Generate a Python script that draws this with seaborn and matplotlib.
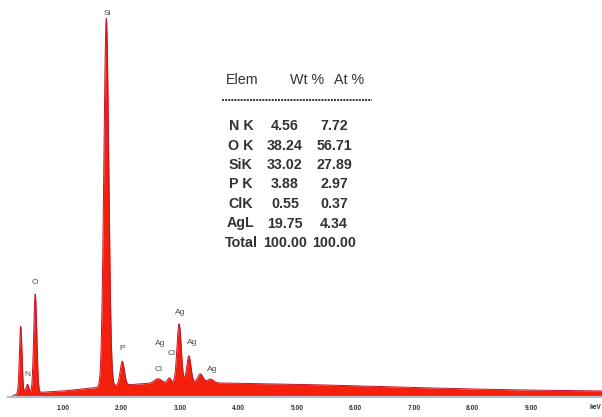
import numpy as np
import matplotlib
matplotlib.use("Agg")
import matplotlib.pyplot as plt
import seaborn as sns
from matplotlib.lines import Line2D

sns.set_theme(style="white")
plt.rcParams["font.family"] = ["Liberation Sans", "DejaVu Sans"]

# Characteristic lines: energy (keV), counts above continuum, sigma (keV)
peak_energy = [0.277, 0.392, 0.525, 1.740, 2.013, 2.622, 2.816, 2.984, 3.151, 3.348, 3.520]
peak_counts = [540, 70, 790, 2950, 190, 35, 40, 470, 215, 70, 30]
peak_sigma = [0.022, 0.025, 0.026, 0.042, 0.036, 0.060, 0.030, 0.036, 0.036, 0.045, 0.050]

# Bremsstrahlung continuum
bg_energy = [0.10, 0.20, 0.40, 0.70, 1.00, 1.50, 2.00, 2.50, 3.00, 3.50, 4.00, 5.00, 6.00, 7.00, 8.00, 9.00, 10.00, 10.30]
bg_counts = [0, 22, 32, 40, 48, 72, 95, 110, 116, 114, 110, 102, 90, 76, 64, 55, 50, 48]

# Peak annotations
label_text = ["N", "O", "Si", "P", "Cl", "Ag", "Cl", "Ag", "Ag", "Ag"]
label_energy = [0.39, 0.52, 1.75, 2.02, 2.64, 2.66, 2.85, 3.01, 3.20, 3.55]
label_counts = [150, 890, 3040, 360, 190, 400, 320, 650, 410, 190]

# Quantification table
elements = ["N K", "O K", "SiK", "P K", "ClK", "AgL", "Total"]
wt_pct = ["4.56", "38.24", "33.02", "3.88", "0.55", "19.75", "100.00"]
at_pct = ["7.72", "56.71", "27.89", "2.97", "0.37", "4.34", "100.00"]
tick_values = [1, 2, 3, 4, 5, 6, 7, 8, 9]
tick_labels = ["1.00", "2.00", "3.00", "4.00", "5.00", "6.00", "7.00", "8.00", "9.00"]

W, H = 602, 417
fig = plt.figure(figsize=(W / 100, H / 100), dpi=100)
ax = fig.add_axes([0, 1 - 397 / H, 1, 397 / H])

energy = np.linspace(0.10, 10.30, 4000)
spectrum = np.interp(energy, bg_energy, bg_counts)
for e0, c0, s0 in zip(peak_energy, peak_counts, peak_sigma):
    spectrum = spectrum + c0 * np.exp(-0.5 * ((energy - e0) / s0) ** 2)

ax.fill_between(energy, 0, spectrum, color="#f5200c", linewidth=0)
sns.lineplot(x=energy, y=spectrum, ax=ax, color="#c4122c", linewidth=0.7)

for t, e, c in zip(label_text, label_energy, label_counts):
    ax.text(e, c, t, ha="center", va="bottom", fontsize=6, color="#4a4a58")

ax.set_xlim(-4.5 / 58.5, (W - 4.5) / 58.5)
ax.set_ylim(0, 3180)
for s in ["top", "left", "right"]:
    ax.spines[s].set_visible(False)
ax.spines["bottom"].set_color("#b4bccb")
ax.spines["bottom"].set_linewidth(1.6)
ax.spines["bottom"].set_bounds(0.06, 10.4)
ax.set_yticks([])
ax.set_xticks(tick_values)
ax.set_xticklabels(tick_labels)
ax.tick_params(axis="x", direction="out", length=3, width=0.8, color="#9aa0aa",
               labelsize=4.8, labelcolor="#333333", pad=3)
for lab in ax.get_xticklabels():
    lab.set_fontweight("bold")
ax.text(10.0, -85, "keV", ha="left", va="center",
        fontsize=4.8, fontweight="bold", color="#333333", clip_on=False)
ax.set_xlabel("")
ax.set_ylabel("")


def fx(x):
    return x / W


def fy(y):
    return 1 - y / H


txt = dict(fontsize=10.3, color="#333333", va="center")
fig.text(fx(242), fy(80), "Elem", ha="center", **txt)
fig.text(fx(307), fy(80), "Wt %", ha="center", **txt)
fig.text(fx(349), fy(80), "At %", ha="center", **txt)
fig.add_artist(Line2D([fx(222), fx(372)], [fy(100), fy(100)], color="#333333",
                      linewidth=1.4, linestyle=(0, (1.0, 0.6))))

row_y0, row_dy = 126, 19.5
for i, (el, w, a) in enumerate(zip(elements, wt_pct, at_pct)):
    y = row_y0 + i * row_dy
    fig.text(fx(241), fy(y), el, ha="center", fontweight="bold", **txt)
    fig.text(fx(285), fy(y), w, ha="center", fontweight="bold", **txt)
    fig.text(fx(334), fy(y), a, ha="center", fontweight="bold", **txt)

fig.savefig("out.png", dpi=100)
